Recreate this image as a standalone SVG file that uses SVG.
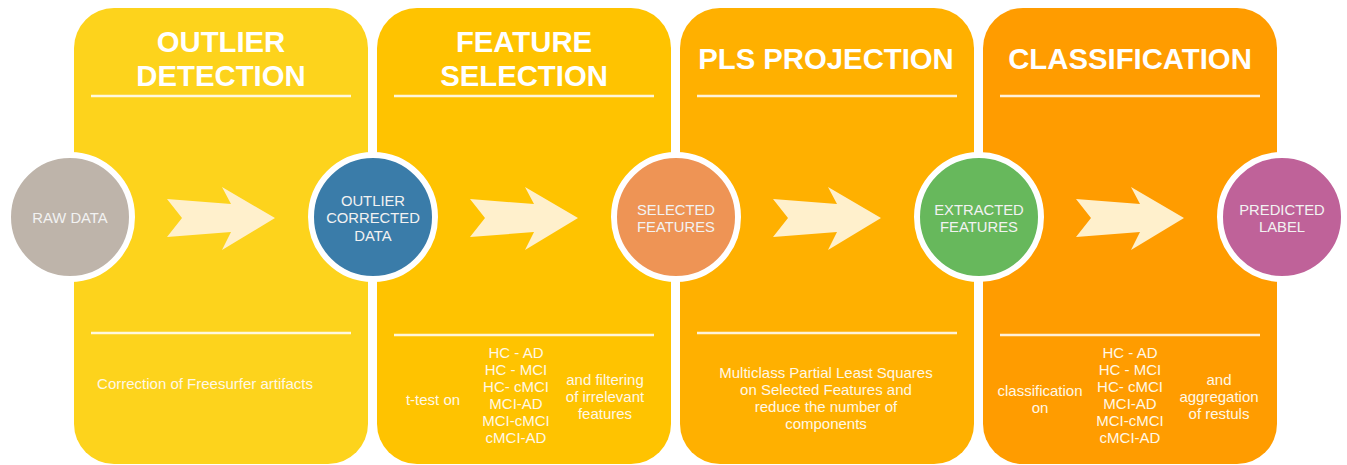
<svg xmlns="http://www.w3.org/2000/svg" width="1347" height="465" viewBox="0 0 1347 465">
<style>
.title{font-family:"Liberation Sans",Arial,sans-serif;font-weight:bold;font-size:29.3px;fill:#fff;text-anchor:middle}
.lbl{font-family:"Liberation Sans",Arial,sans-serif;font-size:14.8px;fill:#f2f2f2;text-anchor:middle}
.body{font-family:"Liberation Sans",Arial,sans-serif;font-size:15px;fill:#fff8e6;text-anchor:middle}
.sep{stroke:#fff;stroke-width:2.5;stroke-opacity:0.85}
.ring{stroke:#fff;stroke-width:6}
.arrow{fill:#fff0cc}
</style>
<defs>
<polygon id="arr" class="arrow" points="0,0 64,5 55,-12 108,19 55,51 64,33 0,38 15,19" />
</defs>
<rect width="1347" height="465" fill="#fff"/>
<g id="panel-outlier">
<rect x="74" y="8" width="294" height="456" rx="40" fill="#fdd31c"/>
<text class="title" x="221" y="52">OUTLIER</text>
<text class="title" x="221" y="86">DETECTION</text>
<line class="sep" x1="91" y1="96" x2="351" y2="96"/>
<line class="sep" x1="91" y1="333" x2="351" y2="333"/>
<text class="body" x="205" y="389">Correction of Freesurfer artifacts</text>
</g>
<g id="panel-feature">
<rect x="377" y="8" width="294" height="456" rx="40" fill="#ffc300"/>
<text class="title" x="524" y="52">FEATURE</text>
<text class="title" x="524" y="86">SELECTION</text>
<line class="sep" x1="394" y1="96" x2="654" y2="96"/>
<line class="sep" x1="394" y1="335" x2="654" y2="335"/>
<text class="body" x="433" y="405">t-test on</text>
<text class="body" x="516" y="358">HC - AD</text>
<text class="body" x="516" y="375">HC - MCI</text>
<text class="body" x="516" y="392">HC- cMCI</text>
<text class="body" x="516" y="409">MCI-AD</text>
<text class="body" x="516" y="426">MCI-cMCI</text>
<text class="body" x="516" y="443">cMCI-AD</text>
<text class="body" x="605" y="385">and filtering</text>
<text class="body" x="605" y="402">of irrelevant</text>
<text class="body" x="605" y="419">features</text>
</g>
<g id="panel-pls">
<rect x="680" y="8" width="294" height="456" rx="40" fill="#ffb000"/>
<text class="title" x="826" y="69">PLS PROJECTION</text>
<line class="sep" x1="697" y1="96" x2="957" y2="96"/>
<line class="sep" x1="697" y1="333" x2="957" y2="333"/>
<text class="body" x="826" y="378">Multiclass Partial Least Squares</text>
<text class="body" x="826" y="395">on Selected Features and</text>
<text class="body" x="826" y="412">reduce the number of</text>
<text class="body" x="826" y="429">components</text>
</g>
<g id="panel-classification">
<rect x="983" y="8" width="294" height="456" rx="40" fill="#ff9c00"/>
<text class="title" x="1130" y="69">CLASSIFICATION</text>
<line class="sep" x1="1000" y1="96" x2="1260" y2="96"/>
<line class="sep" x1="1000" y1="335" x2="1260" y2="335"/>
<text class="body" x="1040" y="396">classification</text>
<text class="body" x="1040" y="413">on</text>
<text class="body" x="1130" y="358">HC - AD</text>
<text class="body" x="1130" y="375">HC - MCI</text>
<text class="body" x="1130" y="392">HC- cMCI</text>
<text class="body" x="1130" y="409">MCI-AD</text>
<text class="body" x="1130" y="426">MCI-cMCI</text>
<text class="body" x="1130" y="443">cMCI-AD</text>
<text class="body" x="1219" y="385">and</text>
<text class="body" x="1219" y="402">aggregation</text>
<text class="body" x="1219" y="419">of restuls</text>
</g>
<g id="connectors">
<use href="#arr" x="167" y="199"/>
<use href="#arr" x="470" y="199"/>
<use href="#arr" x="773" y="199"/>
<use href="#arr" x="1076" y="199"/>
</g>
<g id="node-raw">
<circle class="ring" cx="70" cy="217" r="62" fill="#beb4aa"/>
<text class="lbl" x="70" y="223">RAW DATA</text>
</g>
<g id="node-outlier-corrected">
<circle class="ring" cx="373" cy="217" r="62" fill="#3a7ca9"/>
<text class="lbl" x="373" y="206">OUTLIER</text>
<text class="lbl" x="373" y="223">CORRECTED</text>
<text class="lbl" x="373" y="241">DATA</text>
</g>
<g id="node-selected">
<circle class="ring" cx="676" cy="217" r="62" fill="#ee9455"/>
<text class="lbl" x="676" y="215">SELECTED</text>
<text class="lbl" x="676" y="232">FEATURES</text>
</g>
<g id="node-extracted">
<circle class="ring" cx="979" cy="217" r="62" fill="#67b85c"/>
<text class="lbl" x="979" y="215">EXTRACTED</text>
<text class="lbl" x="979" y="232">FEATURES</text>
</g>
<g id="node-predicted">
<circle class="ring" cx="1282" cy="217" r="62" fill="#bf6299"/>
<text class="lbl" x="1282" y="215">PREDICTED</text>
<text class="lbl" x="1282" y="232">LABEL</text>
</g>
</svg>
